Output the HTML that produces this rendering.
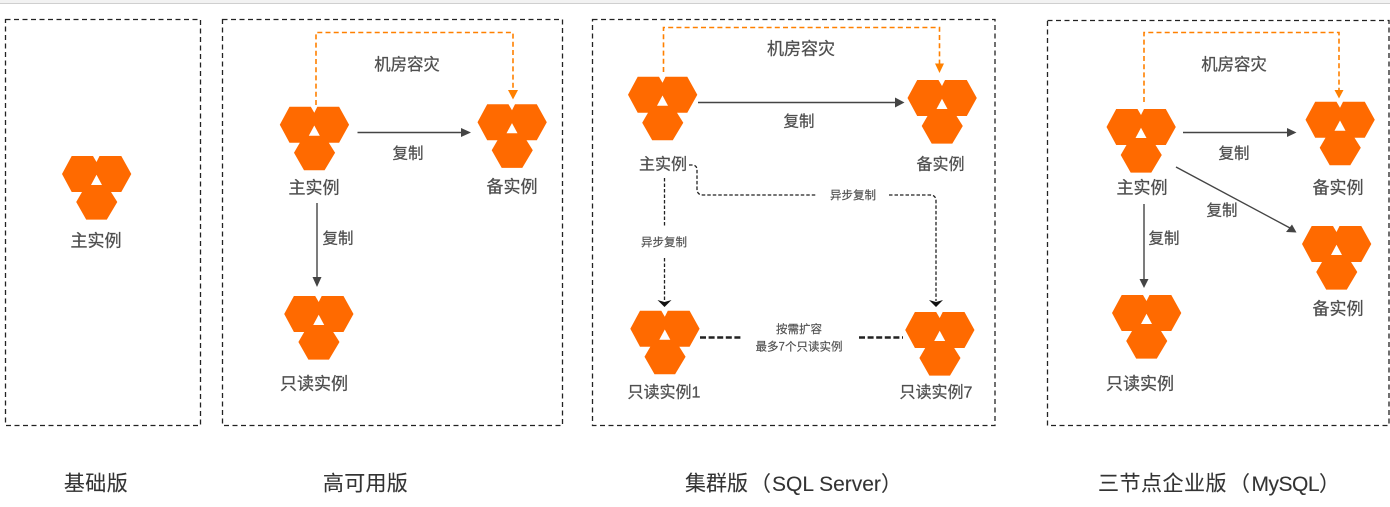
<!DOCTYPE html>
<html lang="zh">
<head>
<meta charset="utf-8">
<title>Architecture editions</title>
<style>
html,body{margin:0;padding:0;background:#fff;width:1390px;height:507px;overflow:hidden}
svg{display:block;filter:blur(.35px)}
text{font-family:"Liberation Sans","Noto Sans CJK SC",sans-serif;text-anchor:middle;dominant-baseline:central;fill:#4f4f4f;stroke:#4f4f4f;stroke-width:.25;transform:translateY(1px)}
.l{font-size:17px}
.m{font-size:16px}
.c{font-size:15.5px}
.d{font-size:16.4px}
.s{font-size:11.5px;stroke-width:.15}
.t{font-size:21px;fill:#333;stroke:#333;stroke-width:.1}
.st{text-anchor:start}
.box{fill:none;stroke:#222;stroke-width:1.3;stroke-dasharray:5 3.5}
.or{fill:none;stroke:#ff8000;stroke-width:1.6;stroke-dasharray:5 3.2}
.ln{fill:none;stroke:#444;stroke-width:1.4}
.dk{fill:none;stroke:#222;stroke-width:1.3;stroke-dasharray:3.5 2}
.th{fill:none;stroke:#222;stroke-width:2.4;stroke-dasharray:6 2.6}
</style>
</head>
<body>
<svg width="1390" height="507" viewBox="0 0 1390 507" xmlns="http://www.w3.org/2000/svg">
<defs>
<g id="h">
<path fill="#ff6a00" d="M-24.8 0H-3.5L0 6L3 0H24.8L34.8 18L24.8 36H14.5L20.8 46L10.3 63.6H-10.3L-20.3 46L-14.5 36H-24.8L-34.5 18Z"/>
<path fill="#fff" d="M0 18.8L5.5 29H-5.5Z"/>
</g>
</defs>
<rect x="0" y="0" width="1390" height="3" fill="#f2f2f2"/>
<rect x="0" y="3" width="1390" height="1" fill="#cfcfcf"/>

<!-- dashed frames -->
<rect class="box" x="5.5" y="19.5" width="195" height="406"/>
<rect class="box" x="222.5" y="19.5" width="340" height="406"/>
<rect class="box" x="592.5" y="19.5" width="402.5" height="406"/>
<rect class="box" x="1047.5" y="20.5" width="341.5" height="405"/>

<!-- basic -->
<use href="#h" x="96.5" y="156"/>
<text class="l" x="96" y="240">主实例</text>

<!-- HA -->
<path class="or" d="M316 105V32.5H513V91"/>
<path fill="#ff8000" d="M508 90H518L513 99.5Z"/>
<use href="#h" x="314.3" y="106.7"/>
<use href="#h" x="512" y="104.3"/>
<use href="#h" x="318.7" y="296"/>
<text class="d" x="407" y="64">机房容灾</text>
<path class="ln" d="M357.5 132.5H463"/>
<path fill="#444" d="M461 128L471 132.5L461 137Z"/>
<text class="c" x="408" y="153">复制</text>
<text class="l" x="314" y="187">主实例</text>
<text class="l" x="512" y="186">备实例</text>
<path class="ln" d="M317 203V279"/>
<path fill="#444" d="M312.5 277H321.5L317 287Z"/>
<text class="c" x="338" y="238">复制</text>
<text class="l" x="314" y="383">只读实例</text>

<!-- Cluster -->
<path class="or" d="M663.5 72V27.5H939.5V64"/>
<path fill="#ff8000" d="M935 63.5H944L939.5 73Z"/>
<use href="#h" x="662.5" y="76.7"/>
<use href="#h" x="942" y="80"/>
<use href="#h" x="664.8" y="310.7"/>
<use href="#h" x="939.7" y="312"/>
<text class="l" x="801" y="48">机房容灾</text>
<path class="ln" d="M698 102.5H897"/>
<path fill="#444" d="M895 97.5L904.5 102.5L895 107.5Z"/>
<text class="c" x="799" y="121">复制</text>
<text class="m" x="663" y="164">主实例</text>
<text class="m" x="940.5" y="164">备实例</text>
<path class="dk" d="M689 165H692Q697 165 697 170V189Q697 195 703 195H817"/>
<path class="dk" d="M889 195H930Q936 195 936 201V301"/>
<text class="s" x="853" y="195">异步复制</text>
<path class="dk" d="M664.5 178V227"/>
<text class="s" x="664" y="242">异步复制</text>
<path class="dk" d="M664.5 258V301"/>
<path fill="#111" d="M657.5 300L664.5 302L671.5 300L664.5 307Z"/>
<path fill="#111" d="M929 300L936 302L943 300L936 307Z"/>
<path class="th" d="M700 337.5H743"/>
<path class="th" d="M859 337.5H903"/>
<text class="s" x="799" y="329">按需扩容</text>
<text class="s" x="799" y="346.5">最多7个只读实例</text>
<text class="m" x="664" y="392">只读实例1</text>
<text class="m" x="936" y="392">只读实例7</text>

<!-- MySQL -->
<path class="or" d="M1144 102V32.5H1339V90"/>
<path fill="#ff8000" d="M1334.5 90H1343.5L1339 98.5Z"/>
<use href="#h" x="1141" y="109"/>
<use href="#h" x="1340" y="101.7"/>
<use href="#h" x="1336.5" y="226"/>
<use href="#h" x="1146.5" y="295"/>
<text class="d" x="1234" y="64">机房容灾</text>
<path class="ln" d="M1183 132.5H1289"/>
<path fill="#444" d="M1287 128L1296.5 132.5L1287 137Z"/>
<text class="c" x="1234" y="153">复制</text>
<path class="ln" d="M1176 167L1290 228"/>
<path fill="#444" d="M1292 224.5L1296.5 232.5L1286 232Z"/>
<text class="c" x="1222" y="210">复制</text>
<text class="l" x="1142" y="187">主实例</text>
<text class="l" x="1338" y="187">备实例</text>
<text class="l" x="1338" y="308">备实例</text>
<path class="ln" d="M1144 204V281"/>
<path fill="#444" d="M1139.5 279H1148.5L1144 288Z"/>
<text class="c" x="1164" y="238">复制</text>
<text class="l" x="1140" y="383">只读实例</text>

<!-- titles -->
<text class="t" x="96" y="483" style="letter-spacing:.4px">基础版</text>
<text class="t" x="365.5" y="483" style="letter-spacing:.3px">高可用版</text>
<text class="t st" x="685" y="483">集群版<tspan dx="2">（</tspan><tspan dx="1">SQL Server</tspan><tspan dx="0">）</tspan></text>
<text class="t st" x="1098" y="483" style="letter-spacing:.5px">三节点企业版<tspan dx="2">（</tspan><tspan dx="1" style="letter-spacing:-.5px">MySQL</tspan><tspan dx="0">）</tspan></text>
</svg>
</body>
</html>
